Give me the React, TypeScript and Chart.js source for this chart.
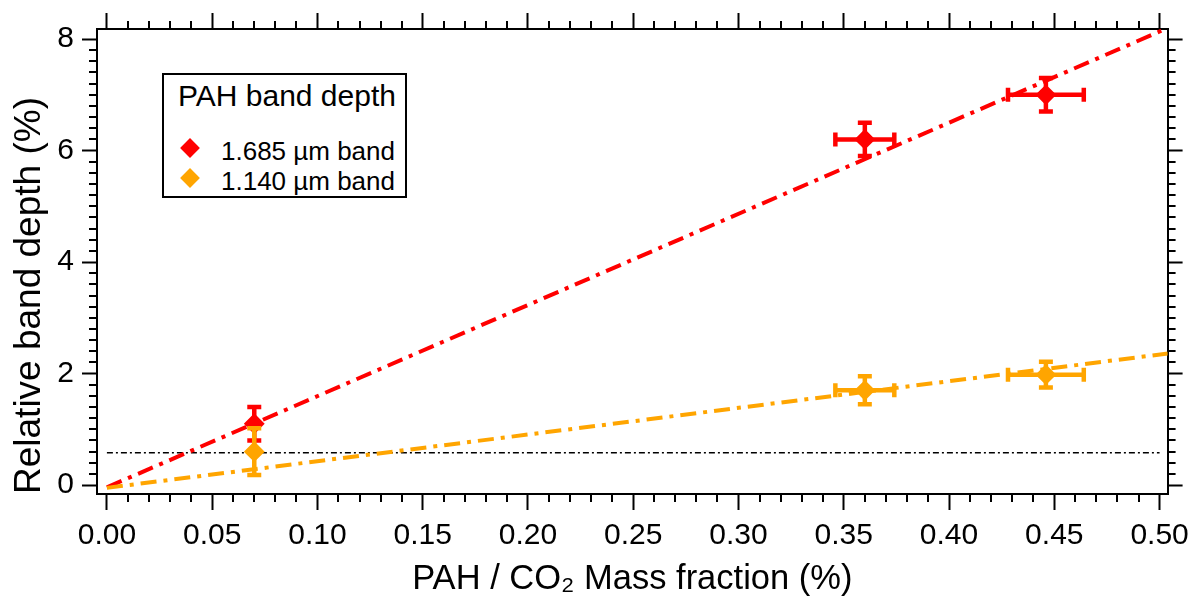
import React, { useEffect, useRef } from "react";
import { Chart, registerables } from "chart.js";

Chart.register(...registerables);

// ---------- data ----------
const massFraction = [0.07, 0.36, 0.446];

const depth1685 = [1.1, 6.2, 7.0];
const depth1685YErr = [0.3, 0.3, 0.3];
const depth1685XErr = [0, 0.014, 0.018];

const depth1140 = [0.6, 1.7, 1.98];
const depth1140YErr = [0.42, 0.25, 0.23];
const depth1140XErr = [0, 0.014, 0.018];

const fitX = [0, 0.504];
const fit1685 = [-0.04, 8.2];
const fit1140 = [-0.05, 2.36];

const limitX = [0, 0.5];
const limitY = [0.58, 0.58];

const xTickValues = [0, 0.05, 0.1, 0.15, 0.2, 0.25, 0.3, 0.35, 0.4, 0.45, 0.5];
const xTickLabels = ["0.00", "0.05", "0.10", "0.15", "0.20", "0.25", "0.30", "0.35", "0.40", "0.45", "0.50"];
const yTickValues = [0, 2, 4, 6, 8];
const yTickLabels = ["0", "2", "4", "6", "8"];
const xRange = [-0.0047, 0.5038];
const yRange = [-0.16, 8.18];
const xMinorStep = 0.01;
const yMinorStep = 0.2;

const seriesNames = ["1.685 µm band", "1.140 µm band"];
const legendTitle = "PAH band depth";
const xTitle = "PAH / CO₂ Mass fraction (%)";
const yTitle = "Relative band depth (%)";

const RED = "#FF0000";
const ORANGE = "#FFA500";
const FONT = "'Liberation Sans', Arial, Helvetica, sans-serif";

// ---------- helpers ----------
const pts = (xs: number[], ys: number[]) => xs.map((x, i) => ({ x, y: ys[i] }));
const yBars = (xs: number[], ys: number[], es: number[]) =>
  xs.flatMap((x, i) =>
    es[i] > 0 ? [{ x, y: ys[i] - es[i] }, { x, y: ys[i] + es[i] }, { x, y: null as any }] : []
  );
const xBars = (xs: number[], ys: number[], es: number[]) =>
  xs.flatMap((x, i) =>
    es[i] > 0 ? [{ x: x - es[i], y: ys[i] }, { x: x + es[i], y: ys[i] }, { x: null as any, y: ys[i] }] : []
  );

const MINOR_LEN = 8;

const minorTickPlugin = {
  id: "minorTicks",
  afterDraw(chart: any) {
    const { ctx } = chart;
    const specs = [
      { id: "x", step: xMinorStep, majors: xTickValues },
      { id: "x2", step: xMinorStep, majors: xTickValues },
      { id: "y", step: yMinorStep, majors: yTickValues },
      { id: "y2", step: yMinorStep, majors: yTickValues },
    ];
    ctx.save();
    ctx.strokeStyle = "#000";
    ctx.lineWidth = 2;
    specs.forEach(({ id, step, majors }) => {
      const s = chart.scales[id];
      if (!s) return;
      const first = Math.ceil(s.min / step - 1e-6);
      const last = Math.floor(s.max / step + 1e-6);
      for (let n = first; n <= last; n++) {
        const v = n * step;
        if (majors.some((m) => Math.abs(m - v) < step / 10)) continue;
        const p = Math.round(s.getPixelForValue(v));
        ctx.beginPath();
        if (s.position === "bottom") {
          ctx.moveTo(p, s.top);
          ctx.lineTo(p, s.top + MINOR_LEN);
        } else if (s.position === "top") {
          ctx.moveTo(p, s.bottom);
          ctx.lineTo(p, s.bottom - MINOR_LEN);
        } else if (s.position === "left") {
          ctx.moveTo(s.right, p);
          ctx.lineTo(s.right - MINOR_LEN, p);
        } else {
          ctx.moveTo(s.left, p);
          ctx.lineTo(s.left + MINOR_LEN, p);
        }
        ctx.stroke();
      }
    });
    ctx.restore();
  },
};

const gridOpts = (len: number) => ({
  display: true,
  drawOnChartArea: false,
  drawTicks: true,
  tickLength: len,
  tickWidth: 2,
  tickColor: "#000",
});
const borderOpts = { display: true, color: "#000", width: 2 };

function seriesDatasets(ys: number[], yErr: number[], xErr: number[], color: string, order: number) {
  return [
    {
      label: "yerr",
      data: yBars(massFraction, ys, yErr),
      showLine: true,
      spanGaps: false,
      borderColor: color,
      borderWidth: 4.5,
      pointStyle: "line",
      pointRadius: 7,
      pointBorderWidth: 4.5,
      pointBorderColor: color,
      pointBackgroundColor: color,
      pointRotation: 0,
      order,
    },
    {
      label: "xerr",
      data: xBars(massFraction, ys, xErr),
      showLine: true,
      spanGaps: false,
      borderColor: color,
      borderWidth: 4.5,
      pointStyle: "line",
      pointRadius: 7,
      pointBorderWidth: 4.5,
      pointBorderColor: color,
      pointBackgroundColor: color,
      pointRotation: 90,
      order,
    },
    {
      label: "points",
      data: pts(massFraction, ys),
      showLine: false,
      pointStyle: "rectRot",
      pointRadius: 9,
      pointBorderWidth: 2,
      pointBackgroundColor: color,
      pointBorderColor: color,
      order: order - 0.5,
    },
  ];
}

export default function App() {
  const canvasRef = useRef<HTMLCanvasElement | null>(null);

  useEffect(() => {
    const canvas = canvasRef.current;
    if (!canvas) return;
    const chart = new Chart(canvas, {
      type: "scatter",
      data: {
        datasets: [
          ...seriesDatasets(depth1140, depth1140YErr, depth1140XErr, ORANGE, 1),
          ...seriesDatasets(depth1685, depth1685YErr, depth1685XErr, RED, 3),
          {
            label: "fit1685",
            data: pts(fitX, fit1685),
            showLine: true,
            pointRadius: 0,
            borderColor: RED,
            borderWidth: 4,
            borderDash: [16, 7, 4, 7],
            order: 10,
          } as any,
          {
            label: "fit1140",
            data: pts(fitX, fit1140),
            showLine: true,
            pointRadius: 0,
            borderColor: ORANGE,
            borderWidth: 4,
            borderDash: [16, 7, 4, 7],
            order: 9,
          },
          {
            label: "limit",
            data: pts(limitX, limitY),
            showLine: true,
            pointRadius: 0,
            borderColor: "#000",
            borderWidth: 1.5,
            borderDash: [6, 3, 2, 3],
            order: 11,
          },
        ] as any,
      },
      options: {
        animation: false,
        responsive: false,
        events: [],
        layout: { padding: 0 },
        plugins: {
          legend: { display: false },
          tooltip: { enabled: false },
        },
        scales: {
          x: {
            type: "linear",
            position: "bottom",
            min: xRange[0],
            max: xRange[1],
            afterBuildTicks: (s: any) => {
              s.ticks = xTickValues.map((value) => ({ value }));
            },
            afterFit: (s: any) => {
              s.height = 103;
            },
            ticks: {
              callback: (_v: any, i: number) => xTickLabels[i],
              font: { family: FONT, size: 30 },
              color: "#000",
              padding: 8,
              maxRotation: 0,
              autoSkip: false,
            },
            grid: gridOpts(16),
            border: borderOpts,
            title: {
              display: true,
              text: xTitle,
              color: "#000",
              font: { family: FONT, size: 34.5, lineHeight: 1 },
              padding: { top: 0, bottom: 0 },
            },
          },
          x2: {
            type: "linear",
            position: "top",
            min: xRange[0],
            max: xRange[1],
            afterBuildTicks: (s: any) => {
              s.ticks = xTickValues.map((value) => ({ value }));
            },
            afterFit: (s: any) => {
              s.height = 29;
            },
            ticks: { display: false },
            grid: gridOpts(16),
            border: borderOpts,
          },
          y: {
            type: "linear",
            position: "left",
            min: yRange[0],
            max: yRange[1],
            afterBuildTicks: (s: any) => {
              s.ticks = yTickValues.map((value) => ({ value }));
            },
            afterFit: (s: any) => {
              s.width = 97;
            },
            ticks: {
              callback: (_v: any, i: number) => yTickLabels[i],
              font: { family: FONT, size: 30 },
              color: "#000",
              padding: 8,
            },
            grid: gridOpts(15),
            border: borderOpts,
            title: {
              display: true,
              text: yTitle,
              align: "start",
              color: "#000",
              font: { family: FONT, size: 37, lineHeight: 1 },
              padding: { top: 11, bottom: 0 },
            },
          },
          y2: {
            type: "linear",
            position: "right",
            min: yRange[0],
            max: yRange[1],
            afterBuildTicks: (s: any) => {
              s.ticks = yTickValues.map((value) => ({ value }));
            },
            afterFit: (s: any) => {
              s.width = 22;
            },
            ticks: { display: false },
            grid: gridOpts(15),
            border: borderOpts,
          },
        },
      } as any,
      plugins: [minorTickPlugin],
    });
    return () => chart.destroy();
  }, []);

  const text = (left: number, top: number, size: number, content: string) => (
    <div
      style={{
        position: "absolute",
        left,
        top,
        fontFamily: FONT,
        fontSize: size,
        lineHeight: 1,
        whiteSpace: "nowrap",
        color: "#000",
      }}
    >
      {content}
    </div>
  );
  const diamond = (cx: number, cy: number, color: string) => (
    <div
      style={{
        position: "absolute",
        left: cx - 7,
        top: cy - 7,
        width: 14,
        height: 14,
        background: color,
        transform: "rotate(45deg)",
      }}
    />
  );

  return (
    <div
      style={{
        position: "absolute",
        left: 0,
        top: 0,
        width: 1197,
        height: 597,
        background: "#fff",
        overflow: "hidden",
      }}
    >
      <canvas ref={canvasRef} width={1197} height={597} style={{ display: "block" }} />
      <div
        style={{
          position: "absolute",
          left: 162,
          top: 73,
          width: 241,
          height: 121,
          border: "2px solid #000",
          background: "#fff",
        }}
      />
      {text(178, 81, 30, legendTitle)}
      {diamond(190, 148, RED)}
      {text(221, 138, 26, seriesNames[0])}
      {diamond(190, 178, ORANGE)}
      {text(221, 168, 26, seriesNames[1])}
    </div>
  );
}
